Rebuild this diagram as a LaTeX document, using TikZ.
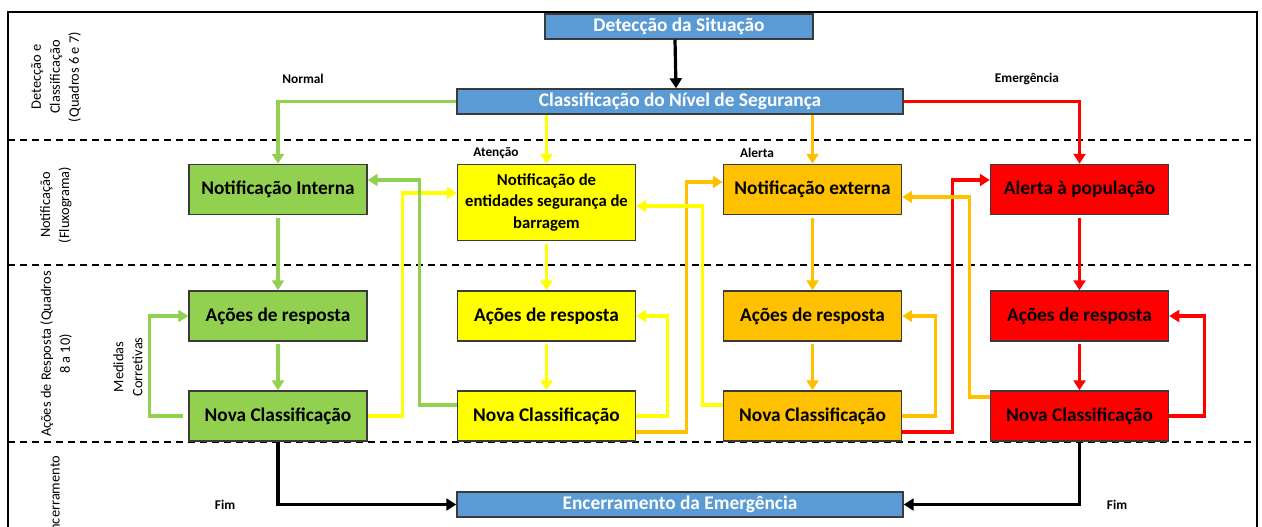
\documentclass[tikz,border=0pt]{standalone}
\usepackage{fontspec}
\setmainfont{Carlito}
\usetikzlibrary{arrows.meta,calc}
\definecolor{cblue}{HTML}{5B9BD5}
\definecolor{cgreen}{HTML}{92D050}
\definecolor{cyellow}{HTML}{FFFF00}
\definecolor{corange}{HTML}{FFC000}
\definecolor{cred}{HTML}{FF0000}
\definecolor{cborder}{HTML}{3A3A3A}
\begin{document}
\begin{tikzpicture}[x=0.75pt,y=-0.75pt,
  box/.style={draw=cborder,line width=1.1pt,minimum width=133.5pt,minimum height=37.5pt,inner sep=1pt,align=center,font=\bfseries\fontsize{14.5}{16.3}\selectfont},
  bluebox/.style={draw=cborder,line width=1.1pt,fill=cblue,text=white,minimum height=18.75pt,inner sep=0pt,font=\bfseries\fontsize{14.5}{16}\selectfont},
  conn/.style={line width=2.4pt,-{Triangle[length=7.5pt,width=9pt]}},
  gline/.style={conn,draw=cgreen},
  yline/.style={conn,draw=cyellow},
  oline/.style={conn,draw=corange},
  rline/.style={conn,draw=cred},
  kline/.style={conn,draw=black},
  lane/.style={rotate=90,align=center,font=\fontsize{10.8}{14.25}\selectfont},
  tag/.style={font=\bfseries\fontsize{10}{12}\selectfont},
  sep/.style={line width=1.1pt,dash pattern=on 5.5pt off 3.5pt}
]
\useasboundingbox (0,0) rectangle (1262,526);
\clip (0,0) rectangle (1262,526);
\fill[white] (0,0) rectangle (1262,526);

% frame and lane separators
\draw[line width=2pt] (8,545) -- (8,12) -- (1257,12) -- (1257,545);
\draw[sep] (8,140) -- (1257,140);
\draw[sep] (8,265) -- (1257,265);
\draw[sep] (8,442) -- (1257,442);

% lane labels
\node[lane] (l1) at (56,77) {Detecção e\\Classificação\\(Quadros 6 e 7)};
\node[lane] (l2) at (56,205) {Notificação\\(Fluxograma)};
\node[lane] (l3) at (56,354) {Ações de Resposta (Quadros\\8 a 10)};
\node[lane,anchor=east] (l4) at (55,451) {Encerramento};

% blue boxes
\node[bluebox,minimum width=201pt] (det) at (679,26.5) {Detecção da Situação};
\node[bluebox,minimum width=334.5pt] (cls) at (680,101.5) {Classificação do Nível de Segurança};
\node[bluebox,minimum width=334.5pt] (enc) at (680,504.5) {Encerramento da Emergência};

% green column
\node[box,fill=cgreen] (gNot) at (278,189.5) {Notificação Interna};
\node[box,fill=cgreen] (gAc) at (278,316) {Ações de resposta};
\node[box,fill=cgreen] (gNov) at (278,416) {Nova Classificação};
% yellow column
\node[box,fill=cyellow,minimum height=57pt,font=\bfseries\fontsize{12.5}{16.3}\selectfont] (yNot) at (546.5,202.5) {Notificação de\\entidades segurança de\\barragem};
\node[box,fill=cyellow] (yAc) at (546.5,316) {Ações de resposta};
\node[box,fill=cyellow] (yNov) at (546.5,416) {Nova Classificação};
% orange column
\node[box,fill=corange] (oNot) at (812.5,189.5) {Notificação externa};
\node[box,fill=corange] (oAc) at (812.5,316) {Ações de resposta};
\node[box,fill=corange] (oNov) at (812.5,416) {Nova Classificação};
% red column
\node[box,fill=cred] (rNot) at (1079.5,189.5) {Alerta à população};
\node[box,fill=cred] (rAc) at (1079.5,316) {Ações de resposta};
\node[box,fill=cred] (rNov) at (1079.5,416) {Nova Classificação};

% labels
\node[tag] (tn) at (303,79) {Normal};
\node[tag] (te) at (1027,79) {Emergência};
\node[tag] (ta) at (496,153) {Atenção};
\node[tag] (tl) at (757,153) {Alerta};
\node[tag] (tf1) at (225,505) {Fim};
\node[tag] (tf2) at (1117,505) {Fim};
\node[lane] (mc) at (128,367) {Medidas\\Corretivas};

% detection to classification
\draw[kline] ([xshift=-3pt]det.south) -- ([xshift=-3pt]cls.north);
% classification to notifications
\draw[gline] (cls.west) -| (gNot.north);
\draw[yline] (cls.south -| yNot.north) -- (yNot.north);
\draw[oline] (cls.south -| oNot.north) -- (oNot.north);
\draw[rline] (cls.east) -| (rNot.north);

% column flows
\draw[gline,shorten <=2pt] (gNot.south) -- (gAc.north);
\draw[gline,shorten <=2pt] (gAc.south) -- (gNov.north);
\draw[yline,shorten <=2pt] (yNot.south) -- (yAc.north);
\draw[yline,shorten <=2pt] (yAc.south) -- (yNov.north);
\draw[oline,shorten <=2pt] (oNot.south) -- (oAc.north);
\draw[oline,shorten <=2pt] (oAc.south) -- (oNov.north);
\draw[rline,shorten <=2pt] (rNot.south) -- (rAc.north);
\draw[rline,shorten <=2pt] (rAc.south) -- (rNov.north);

% corrective measures (green)
\draw[gline,shorten <=4pt] (gNov.west) -- ++(-39,0) |- (gAc.west);

% reclassification links
\draw[yline] (gNov.east) -- ++(35,0) |- ($(yNot.west)+(0,-9.5)$);
\draw[gline] ($(yNov.west)+(0,-11)$) -- ++(-37,0) |- ($(gNot.east)+(0,-9.5)$);
\draw[yline] (yNov.east) -- ++(31,0) |- (yAc.east);
\draw[oline] ($(yNov.east)+(0,16)$) -- ++(50,0) |- ($(oNot.west)+(0,-7.5)$);
\draw[yline] ($(oNov.west)+(0,-11)$) -- ++(-20,0) |- ($(yNot.east)+(0,3.5)$);
\draw[oline] (oNov.east) -- ++(33,0) |- (oAc.east);
\draw[rline] ($(oNov.east)+(0,16)$) -- ++(50,0) |- ($(rNot.west)+(0,-9.5)$);
\draw[oline] ($(rNov.west)+(0,-19)$) -- ++(-20,0) |- ($(oNot.east)+(0,7.5)$);
\draw[rline] (rNov.east) -- ++(35,0) |- (rAc.east);

% closing
\draw[kline] (gNov.south) |- (enc.west);
\draw[kline] (rNov.south) |- (enc.east);
\end{tikzpicture}
\end{document}
